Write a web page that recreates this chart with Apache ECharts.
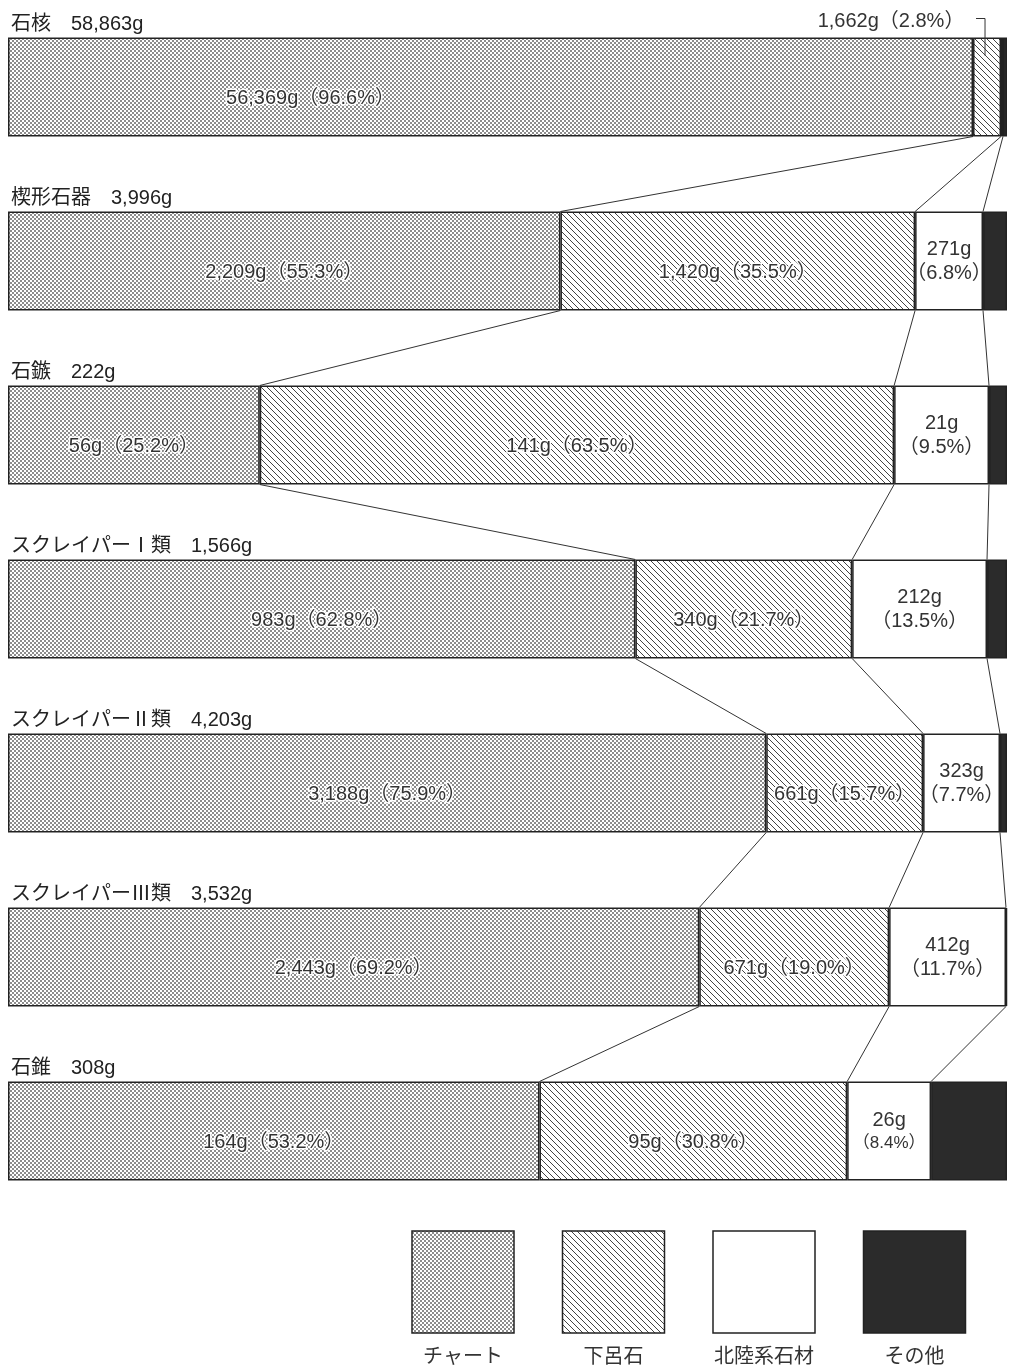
<!DOCTYPE html>
<html>
<head>
<meta charset="utf-8">
<script src="https://cdn.jsdelivr.net/npm/echarts@6/dist/echarts.min.js"></script>
<style>
  html, body { margin: 0; padding: 0; background: #fff; }
  #main { width: 1013px; height: 1369px; }
</style>
</head>
<body>
<div id="main"></div>
<script>
var categories = ['石核', '楔形石器', '石鏃', 'スクレイパーⅠ類', 'スクレイパーⅡ類', 'スクレイパーⅢ類', '石錐'];
var totals = ['58,863g', '3,996g', '222g', '1,566g', '4,203g', '3,532g', '308g'];
var chertGrams = ['56,369g', '2,209g', '56g', '983g', '3,188g', '2,443g', '164g'];
var chertPct = [96.6, 55.3, 25.2, 62.8, 75.9, 69.2, 53.2];
var geroGrams = ['1,662g', '1,420g', '141g', '340g', '661g', '671g', '95g'];
var geroPct = [2.8, 35.5, 63.5, 21.7, 15.7, 19.0, 30.8];
var hokuGrams = ['', '271g', '21g', '212g', '323g', '412g', '26g'];
var hokuPct = [0.2, 6.8, 9.5, 13.5, 7.7, 11.7, 8.4];
var otherPct = [0.4, 2.4, 1.8, 2.0, 0.7, 0.1, 7.6];
var legendNames = ['チャート', '下呂石', '北陸系石材', 'その他'];

var FONT = "'Liberation Sans', 'Noto Sans CJK JP', sans-serif";
var BAR_H = 99;

// 網点
function dotPattern() {
	var c = document.createElement('canvas');
	c.width = 4; c.height = 4;
	var g = c.getContext('2d');
	g.fillStyle = '#fff';
	g.fillRect(0, 0, 4, 4);
	g.fillStyle = '#8c8c8c';
	g.fillRect(0, 0, 2, 2);
	g.fillRect(2, 2, 2, 2);
	return { image: c, repeat: 'repeat' };
}
// 斜線
function hatchPattern() {
	var s = 6;
	var c = document.createElement('canvas');
	c.width = s; c.height = s;
	var g = c.getContext('2d');
	g.fillStyle = '#fff';
	g.fillRect(0, 0, s, s);
	g.strokeStyle = '#444';
	g.lineWidth = 1;
	g.beginPath();
	g.moveTo(-1, -1); g.lineTo(s + 1, s + 1);
	g.moveTo(-1, s - 1); g.lineTo(1, s + 1);
	g.moveTo(s - 1, -1); g.lineTo(s + 1, 1);
	g.stroke();
	return { image: c, repeat: 'repeat' };
}
var fills = [dotPattern(), hatchPattern(), '#fff', '#2b2b2b'];

var chart = echarts.init(document.getElementById('main'));

var labelBase = {
	show: true,
	position: 'inside',
	offset: [0, 11],
	color: '#333',
	fontSize: 20,
	fontFamily: FONT,
	textBorderColor: '#fff',
	textBorderWidth: 3
};

function cum(i, k) {
	var s = chertPct[i];
	if (k > 0) s += geroPct[i];
	if (k > 1) s += hokuPct[i];
	return s;
}
var connectors = [];
for (var i = 0; i < categories.length - 1; i++) {
	for (var k = 0; k < 3; k++) {
		connectors.push([i, cum(i, k), cum(i + 1, k)]);
	}
}

var itemBorder = { borderColor: '#222', borderWidth: 1.5 };

var option = {
	backgroundColor: '#fff',
	animation: false,
	grid: { left: 8, right: 6, top: 0, height: 174 * 7 },
	xAxis: { type: 'value', min: 0, max: 100, show: false },
	yAxis: {
		type: 'category',
		inverse: true,
		data: categories,
		axisLine: { show: false },
		axisTick: { show: false },
		axisLabel: {
			inside: true,
			margin: 3,
			verticalAlign: 'bottom',
			padding: [0, 0, 53, 0],
			color: '#222',
			fontSize: 20,
			fontFamily: FONT,
			formatter: function (v, idx) { return v + '　' + totals[idx]; }
		}
	},
	series: [{
		name: legendNames[0],
		type: 'bar',
		stack: 'all',
		barWidth: BAR_H,
		itemStyle: Object.assign({ color: fills[0] }, itemBorder),
		label: Object.assign({}, labelBase, {
			formatter: function (p) { return chertGrams[p.dataIndex] + '（' + chertPct[p.dataIndex].toFixed(1) + '%）'; }
		}),
		data: chertPct.map(function (v, i) {
			return i === 0 ? { value: v, label: { offset: [-180, 11] } } : v;
		})
	}, {
		name: legendNames[1],
		type: 'bar',
		stack: 'all',
		itemStyle: Object.assign({ color: fills[1] }, itemBorder),
		label: Object.assign({}, labelBase, {
			formatter: function (p) { return geroGrams[p.dataIndex] + '（' + geroPct[p.dataIndex].toFixed(1) + '%）'; }
		}),
		data: geroPct.map(function (v, i) {
			return i === 0 ? { value: v, label: { position: 'top', offset: [-96, -1], textBorderWidth: 0 } } : v;
		})
	}, {
		name: legendNames[2],
		type: 'bar',
		stack: 'all',
		itemStyle: Object.assign({ color: fills[2] }, itemBorder),
		label: {
			show: true,
			position: 'inside',
			color: '#333',
			fontFamily: FONT,
			formatter: function (p) {
				var i = p.dataIndex;
				if (!hokuGrams[i]) return '';
				var pct = '（' + hokuPct[i].toFixed(1) + '%）';
				return '{a|' + hokuGrams[i] + '}\n{' + (i === 6 ? 'c' : 'b') + '|' + pct + '}';
			},
			rich: {
				a: { fontSize: 20, fontFamily: FONT, color: '#333', lineHeight: 24 },
				b: { fontSize: 20, fontFamily: FONT, color: '#333', lineHeight: 24 },
				c: { fontSize: 17, fontFamily: FONT, color: '#333', lineHeight: 22 }
			}
		},
		data: hokuPct
	}, {
		name: legendNames[3],
		type: 'bar',
		stack: 'all',
		itemStyle: Object.assign({ color: fills[3] }, itemBorder),
		data: otherPct
	}, {
		type: 'custom',
		clip: false,
		silent: true,
		encode: { x: [1, 2], y: 0 },
		renderItem: function (params, api) {
			var idx = api.value(0);
			var a = api.coord([api.value(1), idx]);
			var b = api.coord([api.value(2), idx + 1]);
			return {
				type: 'line',
				shape: { x1: a[0], y1: a[1] + BAR_H / 2, x2: b[0], y2: b[1] - BAR_H / 2 },
				style: { stroke: '#333', lineWidth: 1 }
			};
		},
		data: connectors
	}]
};
chart.setOption(option);

// 凡例と引出線
var graphics = [];
var lx = 412, ly = 1231, lsize = 102, lstep = 150.5;
legendNames.forEach(function (name, i) {
	var x = lx + i * lstep;
	graphics.push({
		type: 'rect',
		shape: { x: x, y: ly, width: lsize, height: lsize },
		style: { fill: fills[i], stroke: '#222', lineWidth: 1.5 }
	});
	graphics.push({
		type: 'text',
		x: x + lsize / 2,
		y: 1357,
		style: {
			text: name, fill: '#333', font: '20px ' + FONT,
			align: 'center', verticalAlign: 'middle'
		}
	});
});
var c0 = chart.convertToPixel({ gridIndex: 0 }, [chertPct[0] + geroPct[0] / 2, 0]);
var top0 = c0[1] - BAR_H / 2;
graphics.push({
	type: 'polyline',
	shape: { points: [[c0[0] - 11, top0 - 19], [c0[0] - 2, top0 - 19], [c0[0] - 2, top0 + 18]] },
	style: { stroke: '#333', lineWidth: 1, fill: null },
	z: 10
});
chart.setOption({ graphic: graphics });

window.onresize = function () {
	chart.resize();
};
</script>
</body>
</html>
